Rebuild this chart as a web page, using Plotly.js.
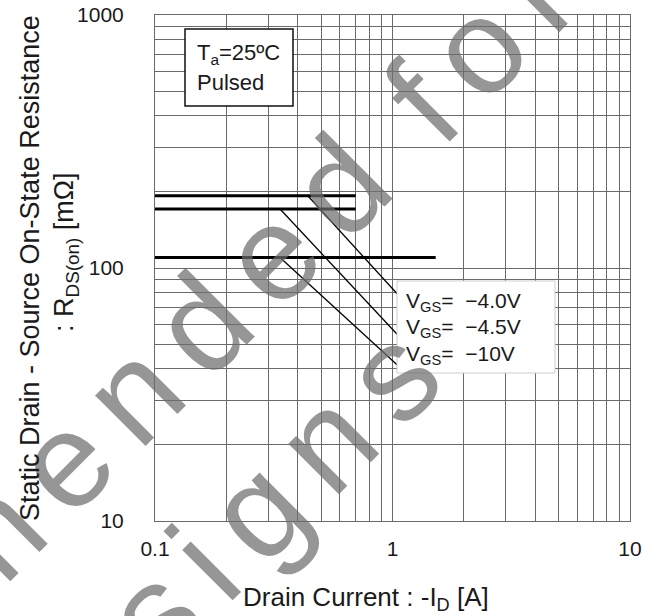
<!DOCTYPE html>
<html>
<head>
<meta charset="utf-8">
<script src="https://cdn.plot.ly/plotly-3.0.1.min.js"></script>
<style>html,body{margin:0;padding:0;background:#fff;}</style>
</head>
<body>
<div id="chart" style="width:657px;height:616px;"></div>
<script>
// ---- data ----
const seriesNames = ['V<sub>GS</sub>=  \u22124.0V', 'V<sub>GS</sub>=  \u22124.5V', 'V<sub>GS</sub>=  \u221210V'];
// flat measured segments (drain current [A], R_DS(on) [mOhm])
const flatCurrent = [[0.1, 0.70], [0.1, 0.70], [0.1, 1.52]];
const flatResistance = [193, 171, 110];
// leader lines from each curve to its label
const leaderStartCurrent = [0.44, 0.336, 0.336];
const leaderEndCurrent = [1.06, 1.06, 1.09];
const leaderEndResistance = [78, 54, 40];
// tick labels
const xTickVals = [0.1,0.2,0.3,0.4,0.5,0.6,0.7,0.8,0.9,1,2,3,4,5,6,7,8,9,10];
const xTickText = ['0.1','','','','','','','','','1','','','','','','','','','10'];
const yTickVals = [10,20,30,40,50,60,70,80,90,100,200,300,400,500,600,700,800,900,1000];
const yTickText = ['10','','','','','','','','','100','','','','','','','','','1000'];
// watermark words
const watermarkLines = [['recommended', 'for'], ['new', 'designs']];

const FONT = 'Liberation Sans, Arial, Helvetica, sans-serif';
const traces = [];
for (let i = 0; i < flatResistance.length; i++) {
  traces.push({
    x: flatCurrent[i], y: [flatResistance[i], flatResistance[i]],
    type: 'scatter', mode: 'lines', name: seriesNames[i],
    line: {color: '#000', width: 3}, hoverinfo: 'skip', showlegend: false
  });
  traces.push({
    x: [leaderStartCurrent[i], leaderEndCurrent[i]],
    y: [flatResistance[i], leaderEndResistance[i]],
    type: 'scatter', mode: 'lines',
    line: {color: '#000', width: 1.3}, hoverinfo: 'skip', showlegend: false
  });
}

const axisCommon = {
  type: 'log', tickmode: 'array', ticks: '', showgrid: true,
  gridcolor: '#6a6a6a', gridwidth: 1, showline: true, linecolor: '#6a6a6a',
  linewidth: 1, mirror: true, zeroline: false,
  tickfont: {family: FONT, size: 21, color: '#1a1a1a'}
};

// spaced-out watermark text (six-per-em space between letters)
const SP = '\u2006';
const spaced = words => words.map(w => w.split('').join(SP)).join(SP + ' ');
const WM = {family: FONT, size: 135, color: 'rgba(110,110,110,0.72)'};
const annotations = [
  {xref: 'paper', yref: 'paper', x: -0.1705, y: 0.138, xanchor: 'center', yanchor: 'middle',
   text: spaced(watermarkLines[0]), textangle: -45, showarrow: false, font: WM},
  {xref: 'paper', yref: 'paper', x: -0.158, y: -0.330, xanchor: 'center', yanchor: 'middle',
   text: spaced(watermarkLines[1]), textangle: -45, showarrow: false, font: WM},
  // y title (two lines)
  {xref: 'paper', yref: 'paper', x: (30 - 155) / 475, y: (521 - 268) / 506, xanchor: 'center', yanchor: 'middle',
   text: 'Static Drain - Source On-State Resistance', textangle: -90, showarrow: false,
   font: {family: FONT, size: 27, color: '#1a1a1a'}},
  {xref: 'paper', yref: 'paper', x: (66 - 155) / 475, y: (521 - 252) / 506, xanchor: 'center', yanchor: 'middle',
   text: ': R<sub>DS(on)</sub> [m\u03A9]', textangle: -90, showarrow: false,
   font: {family: FONT, size: 27, color: '#1a1a1a'}},
  // x title
  {xref: 'paper', yref: 'paper', x: (366 - 155) / 475, y: (521 - 598) / 506, xanchor: 'center', yanchor: 'middle',
   text: 'Drain Current : -I<sub>D</sub> [A]', showarrow: false,
   font: {family: FONT, size: 26, color: '#1a1a1a'}},
  // condition box text
  {xref: 'paper', yref: 'paper', x: (195 - 155) / 475, y: (521 - 54) / 506, xanchor: 'left', yanchor: 'middle',
   text: 'T<sub>a</sub>=25\u00BAC', showarrow: false, font: {family: FONT, size: 22, color: '#1a1a1a'}},
  {xref: 'paper', yref: 'paper', x: (195 - 155) / 475, y: (521 - 82) / 506, xanchor: 'left', yanchor: 'middle',
   text: 'Pulsed', showarrow: false, font: {family: FONT, size: 22, color: '#1a1a1a'}}
];
const labelY = [302, 328, 355];
for (let i = 0; i < seriesNames.length; i++) {
  annotations.push({xref: 'paper', yref: 'paper', x: (404 - 155) / 475, y: (521 - labelY[i]) / 506,
    xanchor: 'left', yanchor: 'middle', text: seriesNames[i], showarrow: false,
    font: {family: FONT, size: 21, color: '#1a1a1a'}});
}

const layout = {
  width: 657, height: 616,
  margin: {l: 155, r: 27, t: 15, b: 95},
  paper_bgcolor: '#fff', plot_bgcolor: '#fff',
  showlegend: false,
  xaxis: Object.assign({}, axisCommon, {range: [-1, 1], tickvals: xTickVals, ticktext: xTickText, ticklabelstandoff: 9}),
  yaxis: Object.assign({}, axisCommon, {range: [1, 3], tickvals: yTickVals, ticktext: yTickText, ticklabelstandoff: 26}),
  shapes: [
    {type: 'rect', xref: 'paper', yref: 'paper', x0: (185 - 155) / 475, x1: (293 - 155) / 475,
     y0: (521 - 106) / 506, y1: (521 - 29) / 506, fillcolor: '#fff', line: {color: '#111', width: 1.5}, layer: 'above'},
    {type: 'rect', xref: 'paper', yref: 'paper', x0: (397 - 155) / 475, x1: (555 - 155) / 475,
     y0: (521 - 373) / 506, y1: (521 - 281) / 506, fillcolor: '#fff', line: {color: '#cfcfcf', width: 1}, layer: 'above'}
  ],
  annotations: annotations
};

Plotly.newPlot('chart', traces, layout, {displayModeBar: false, staticPlot: true});
</script>
</body>
</html>
